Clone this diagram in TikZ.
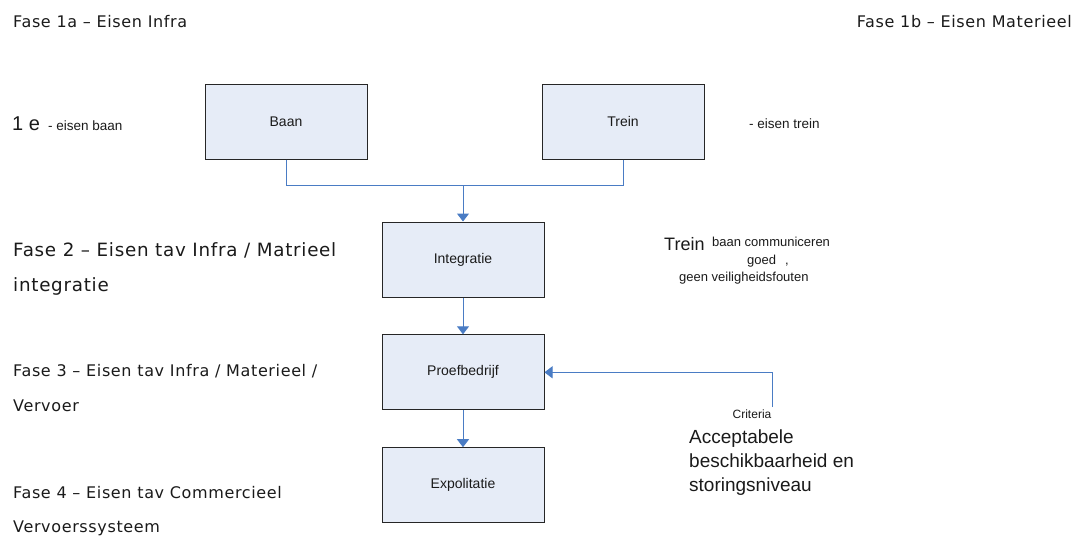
\documentclass[tikz,border=0pt]{standalone}
\usepackage{fontspec}
\setmainfont{Liberation Sans}
\newfontfamily\phasefont[LetterSpace=4]{DejaVu Sans}
\usetikzlibrary{arrows.meta}
\definecolor{boxfill}{HTML}{E6ECF7}
\definecolor{lineblue}{HTML}{4A7CC4}
\definecolor{txt}{HTML}{1A1A1A}
\tikzset{
  procbox/.style={draw=black!85, line width=1pt, fill=boxfill, minimum width=162pt, minimum height=75pt, inner sep=0pt, font=\fontsize{14}{16}\selectfont, text=txt},
  conn/.style={draw=lineblue, line width=1pt},
  arrowconn/.style={conn, -{Triangle[width=12pt,length=8pt]}},
  phase/.style={anchor=base west, inner sep=0pt, text=txt, font=\phasefont\fontsize{16}{35}\selectfont, align=left},
  bigphase/.style={phase, font=\phasefont\fontsize{18.3}{35}\selectfont},
  note/.style={anchor=base west, inner sep=0pt, text=txt}
}
\begin{document}
\begin{tikzpicture}[x=1pt,y=-1pt]
\useasboundingbox (0,0) rectangle (1078,536);

% phase labels
\node[phase] (f1a) at (13,27.3) {Fase 1a – Eisen Infra};
\node[phase, anchor=base east] (f1b) at (1072,27.3) {Fase 1b – Eisen Materieel};
\node[bigphase] (f2a) at (13,256.7) {Fase 2 – Eisen tav Infra / Matrieel};
\node[bigphase] (f2b) at (13,291.7) {integratie};
\node[phase] (f3a) at (13,376.7) {Fase 3 – Eisen tav Infra / Materieel /};
\node[phase] (f3b) at (13,411.7) {Vervoer};
\node[phase] (f4a) at (13,498) {Fase 4 – Eisen tav Commercieel};
\node[phase] (f4b) at (13,532) {Vervoerssysteem};

% boxes
\node[procbox] (baan) at (286,121.5) {Baan};
\node[procbox] (trein) at (623,121.5) {Trein};
\node[procbox] (integ) at (463,259.5) {Integratie};
\node[procbox] (proef) at (463,372.3) {Proefbedrijf};
\node[procbox] (expo) at (463,485.2) {Expolitatie};

% side notes
\node[note, font=\fontsize{20}{22}\selectfont] (een) at (12,130) {1 e};
\node[note, font=\fontsize{13.5}{15}\selectfont] (ebaan) at (48,130) {- eisen baan};
\node[note, font=\fontsize{13.5}{15}\selectfont] (etrein) at (749,128) {- eisen trein};

\node[note, font=\fontsize{18}{20}\selectfont] (tr) at (664,250) {Trein};
\node[note, font=\fontsize{13}{15}\selectfont] (bc) at (712,246.7) {baan communiceren};
\node[note, font=\fontsize{13}{15}\selectfont] (goed) at (747,264) {goed\hspace{9pt},};
\node[note, font=\fontsize{13}{15}\selectfont] (geen) at (679,281) {geen veiligheidsfouten};

\node[note, anchor=base, font=\fontsize{12}{14}\selectfont] (crit) at (752,418) {Criteria};
\node[note, font=\fontsize{19}{24}\selectfont, align=left] (acc) at (689,491.3) {Acceptabele\\beschikbaarheid en\\storingsniveau};

% connectors
\coordinate (j) at (463,185);
\coordinate (fb) at (772,407);
\draw[conn] (baan.south) |- (j);
\draw[conn] (trein.south) |- (j);
\draw[arrowconn] (j) -- (integ.north);
\draw[arrowconn] (integ.south) -- (proef.north);
\draw[arrowconn] (proef.south) -- (expo.north);
\draw[arrowconn] (fb) |- (proef.east);
\end{tikzpicture}
\end{document}
